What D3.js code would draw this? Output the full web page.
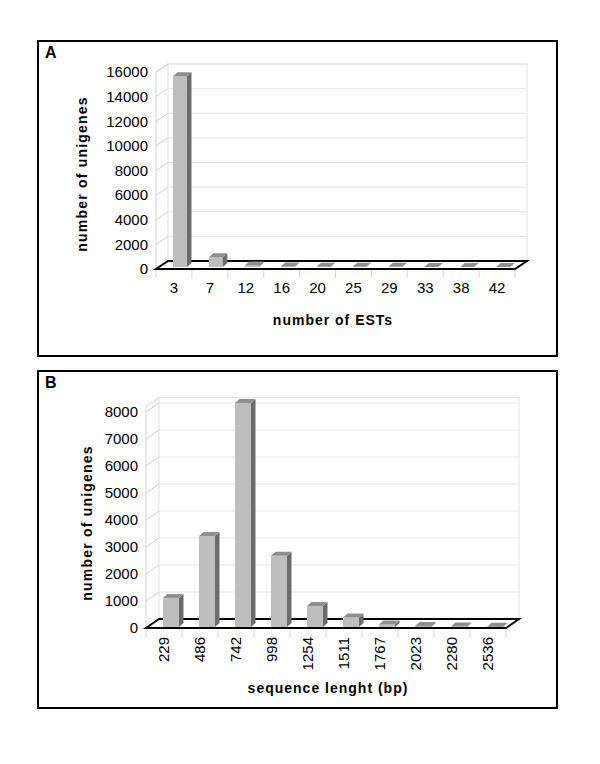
<!DOCTYPE html>
<html>
<head>
<meta charset="utf-8">
<script src="https://cdn.jsdelivr.net/npm/d3@7"></script>
<style>
  body { margin: 0; background: #fff; }
  svg { display: block; font-family: "Liberation Sans", Arial, sans-serif; }
</style>
</head>
<body>
<svg id="chart" width="600" height="764"></svg>
<script>
// panel A: unigenes by number of ESTs
const estCategories = ['3', '7', '12', '16', '20', '25', '29', '33', '38', '42'];
const estCounts = [15500, 800, 120, 50, 30, 20, 15, 10, 8, 5];
const estTicks = [0, 2000, 4000, 6000, 8000, 10000, 12000, 14000, 16000];

// panel B: unigenes by sequence length
const lengthCategories = ['229', '486', '742', '998', '1254', '1511', '1767', '2023', '2280', '2536'];
const lengthCounts = [1070, 3370, 8300, 2640, 780, 350, 90, 40, 15, 10];
const lengthTicks = [0, 1000, 2000, 3000, 4000, 5000, 6000, 7000, 8000];

const svg = d3.select('#chart');

function drawPanel(p) {
    const g = svg.append('g');
    const [bx, by, bw, bh] = p.box;

    g.append('rect')
        .attr('x', bx).attr('y', by).attr('width', bw).attr('height', bh)
        .attr('fill', '#fff').attr('stroke', '#000').attr('stroke-width', 2);

    g.append('text')
        .attr('x', bx + 7).attr('y', by + 17)
        .attr('font-size', 16).attr('font-weight', 'bold')
        .text(p.letter);

    const x = d3.scaleBand().domain(p.categories).range(p.xRange);
    const y = d3.scaleLinear().domain([0, p.yMax]).range(p.yRange);
    const [dx, dy] = p.depth;
    const x0 = p.xRange[0], x1 = p.xRange[1];
    const y0 = y(0), yTop = y(p.yMax);

    // back wall + left side wall
    g.append('rect')
        .attr('x', x0 + dx).attr('y', yTop + dy)
        .attr('width', x1 - x0).attr('height', y0 - yTop)
        .attr('fill', 'none').attr('stroke', '#e2e2e2');
    g.append('path')
        .attr('d', `M${x0},${y0}V${yTop}L${x0 + dx},${yTop + dy}`)
        .attr('fill', 'none').attr('stroke', '#d4d4d4');

    g.selectAll('line.grid')
        .data(p.ticks.filter((t) => t > 0))
        .join('line')
        .attr('class', 'grid')
        .attr('x1', x0 + dx).attr('x2', x1 + dx)
        .attr('y1', (t) => y(t) + dy).attr('y2', (t) => y(t) + dy)
        .attr('stroke', '#e4e4e4');

    g.selectAll('line.side')
        .data(p.ticks)
        .join('line')
        .attr('class', 'side')
        .attr('x1', x0).attr('x2', x0 + dx)
        .attr('y1', (t) => y(t)).attr('y2', (t) => y(t) + dy)
        .attr('stroke', '#cfcfcf');

    // category separators under the floor
    const edges = [x0].concat(p.categories.map((c) => x(c) + x.bandwidth()));
    g.selectAll('line.sep')
        .data(edges)
        .join('line')
        .attr('class', 'sep')
        .attr('x1', (d) => d).attr('x2', (d) => d)
        .attr('y1', y0 + 1).attr('y2', y0 + 9)
        .attr('stroke', '#d6d6d6');

    // floor
    g.append('path')
        .attr('d', `M${x0},${y0}L${x1},${y0}L${x1 + dx},${y0 + dy}L${x0 + dx},${y0 + dy}Z`)
        .attr('fill', '#fff').attr('stroke', '#000').attr('stroke-width', 2)
        .attr('stroke-linejoin', 'miter');

    // 3d bars
    const data = p.categories.map((c, i) => ({ key: c, value: p.values[i] }));
    const [ox, oy] = p.barOffset;
    const w = p.barWidth;
    const [sx, sy] = p.barDepth;
    const bars = g.selectAll('g.bar').data(data).join('g').attr('class', 'bar');

    bars.append('rect')
        .attr('x', (d) => x(d.key) + ox)
        .attr('y', (d) => y(d.value) + oy)
        .attr('width', w)
        .attr('height', (d) => y0 - y(d.value))
        .attr('fill', '#bebebe');

    bars.append('path')
        .attr('d', (d) => {
            const l = x(d.key) + ox + w, t = y(d.value) + oy, b = y0 + oy;
            return `M${l},${t}L${l + sx},${t + sy}L${l + sx},${b + sy}L${l},${b}Z`;
        })
        .attr('fill', '#6c6c6c');

    bars.append('path')
        .attr('d', (d) => {
            const l = x(d.key) + ox, t = y(d.value) + oy;
            return `M${l},${t}L${l + sx},${t + sy}L${l + w + sx},${t + sy}L${l + w},${t}Z`;
        })
        .attr('fill', '#8f8f8f');

    // axes
    const yAxis = g.append('g')
        .attr('transform', `translate(${x0},0)`)
        .call(d3.axisLeft(y).tickValues(p.ticks).tickFormat(d3.format('d')).tickSize(0).tickPadding(8));
    yAxis.select('.domain').remove();
    yAxis.selectAll('text').attr('font-size', 15).attr('font-family', null).attr('fill', '#000');

    const xAxis = g.append('g')
        .attr('transform', `translate(0,${y0})`)
        .call(d3.axisBottom(x).tickSize(0).tickPadding(p.xPadding));
    xAxis.select('.domain').remove();
    xAxis.selectAll('text').attr('font-size', 15).attr('font-family', null).attr('fill', '#000');
    if (p.rotateLabels) {
        xAxis.selectAll('text')
            .attr('transform', 'rotate(-90)')
            .attr('x', -p.xPadding)
            .attr('y', 0)
            .attr('dy', '0.35em')
            .attr('text-anchor', 'end');
    }

    // titles
    g.append('text')
        .attr('x', p.xTitle[0]).attr('y', p.xTitle[1])
        .attr('text-anchor', 'middle')
        .attr('font-size', 14).attr('font-weight', 'bold')
        .attr('letter-spacing', 1)
        .text(p.xLabel);

    g.append('text')
        .attr('transform', `translate(${p.yTitle[0]},${p.yTitle[1]}) rotate(-90)`)
        .attr('text-anchor', 'middle')
        .attr('font-size', 14).attr('font-weight', 'bold')
        .attr('letter-spacing', 1.2)
        .text('number of unigenes');
}

drawPanel({
    box: [38, 41, 519, 315],
    letter: 'A',
    categories: estCategories,
    values: estCounts,
    ticks: estTicks,
    yMax: 16000,
    xRange: [156, 515],
    yRange: [269, 72],
    depth: [12, -8],
    barOffset: [17, -2],
    barWidth: 14,
    barDepth: [4.5, -4],
    xPadding: 13,
    rotateLabels: false,
    xLabel: 'number of ESTs',
    xTitle: [333, 325],
    yTitle: [87, 174]
});

drawPanel({
    box: [38, 371, 519, 337],
    letter: 'B',
    categories: lengthCategories,
    values: lengthCounts,
    ticks: lengthTicks,
    yMax: 8200,
    xRange: [146, 506],
    yRange: [628, 628 - 8200 * 0.027],
    depth: [13, -9],
    barOffset: [17, -1],
    barWidth: 16,
    barDepth: [4.5, -4],
    xPadding: 9,
    rotateLabels: true,
    xLabel: 'sequence lenght (bp)',
    xTitle: [328, 693],
    yTitle: [92, 523]
});
</script>
</body>
</html>
